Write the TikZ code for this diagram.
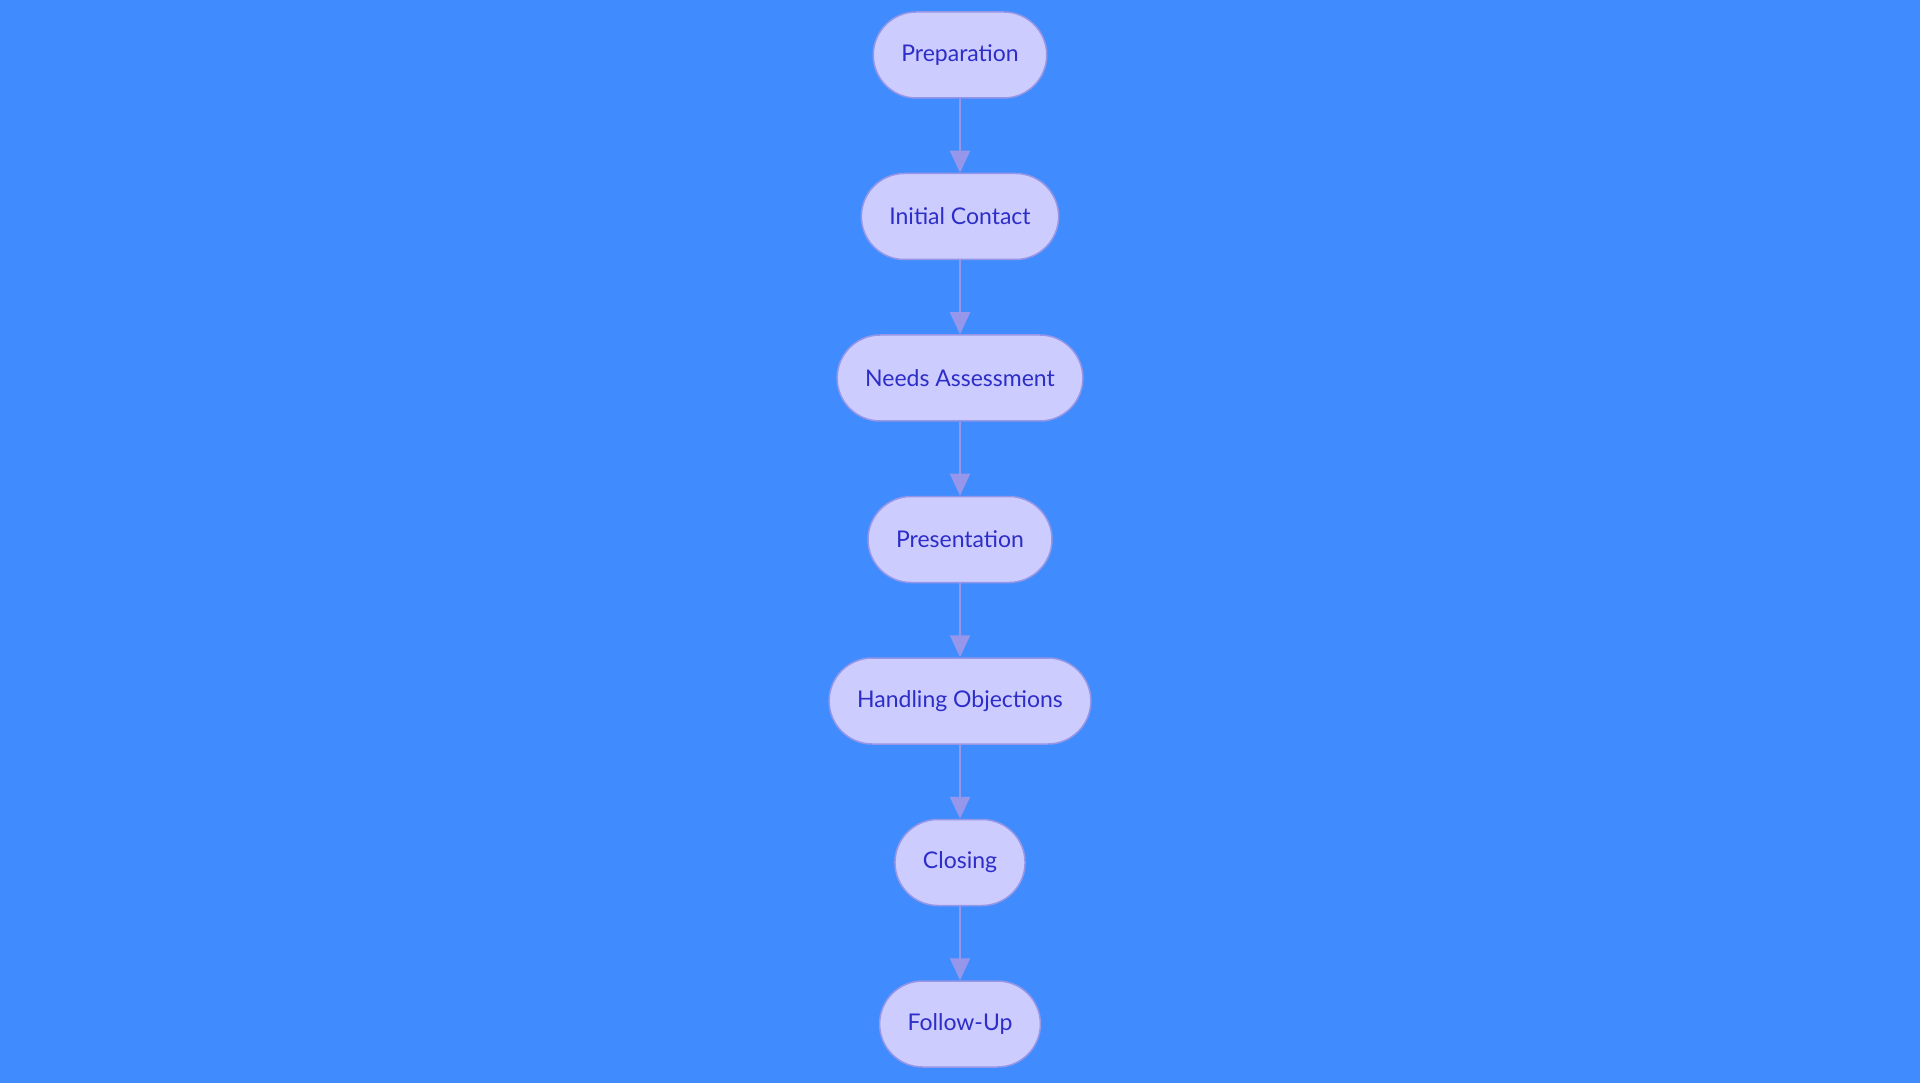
\documentclass[tikz,border=0pt]{standalone}
\usepackage{fontspec}
\setmainfont{Lato}
\usetikzlibrary{positioning, arrows.meta}
\definecolor{bgblue}{RGB}{64,140,255}
\definecolor{stagefill}{RGB}{204,204,255}
\definecolor{stageline}{RGB}{150,150,230}
\definecolor{stagetext}{RGB}{45,45,200}
\definecolor{flowline}{RGB}{150,150,235}
\begin{document}
\begin{tikzpicture}[x=0.5pt,y=0.5pt,
  stage/.style={draw=stageline, line width=0.75pt, fill=stagefill, text=stagetext,
    rounded corners=21.5pt, minimum height=43pt, inner xsep=14pt,
    font=\fontsize{11.5}{13}\selectfont},
  flow/.style={draw=flowline, line width=1pt, -{Triangle[length=11pt,width=10pt]}},
  node distance=37pt]
%销售流程
\fill[bgblue] (0,0) rectangle (1920,1083);
\useasboundingbox (0,0) rectangle (1920,1083);

\node[stage] (prep) at (960,1028) {Preparation};
\node[stage, below=of prep] (contact) {Initial Contact};
\node[stage, below=of contact] (needs) {Needs Assessment};
\node[stage, below=of needs] (present) {Presentation};
\node[stage, below=of present] (objections) {Handling Objections};
\node[stage, below=of objections] (closing) {Closing};
\node[stage, below=of closing] (followup) {Follow-Up};

\foreach \a/\b in {prep/contact, contact/needs, needs/present, present/objections, objections/closing, closing/followup}
  \draw[flow] (\a) -- (\b);
\end{tikzpicture}
\end{document}
